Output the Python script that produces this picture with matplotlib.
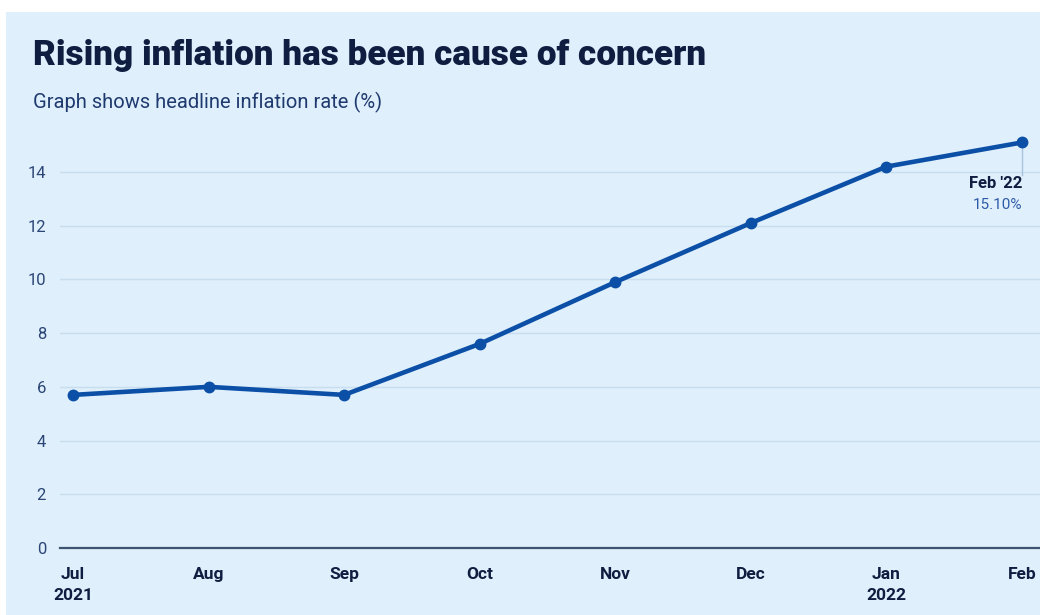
import matplotlib
matplotlib.use("Agg")
import matplotlib.pyplot as plt
from matplotlib.patches import Rectangle

months = ["Jul\n2021", "Aug", "Sep", "Oct", "Nov", "Dec", "Jan\n2022", "Feb"]
inflation = [5.7, 6.0, 5.7, 7.6, 9.9, 12.1, 14.2, 15.1]
yticks = [0, 2, 4, 6, 8, 10, 12, 14]

BG = "#dfeffb"
NAVY = "#0f1d40"
LINE = "#0b4fa6"
TICK = "#2b4676"
GRID = "#c9ddf0"
FONT = ["Roboto", "DejaVu Sans"]

W, H = 1040, 615
fig = plt.figure(figsize=(W / 100, H / 100), dpi=100, facecolor="white")
fig.patches.append(Rectangle((6 / W, 0), 1 - 6 / W, 1 - 12 / H, transform=fig.transFigure,
                             facecolor=BG, edgecolor="none", zorder=-10))

left, right = 60 / W, 1040 / W
bottom, top = (H - 548) / H, (H - 131.7) / H
ax = fig.add_axes([left, bottom, right - left, top - bottom])
ax.set_facecolor("none")

x = list(range(len(months)))
ax.plot(x, inflation, color=LINE, lw=3.3, marker="o", ms=7.5, solid_capstyle="round",
        zorder=5, clip_on=False)

ax.set_xlim(-0.096, 7.133)
ax.set_ylim(0, 15.5)
ax.set_yticks(yticks)
ax.set_yticklabels([str(v) for v in yticks])
ax.set_xticks(x)
ax.set_xticklabels(months)

for s in ["top", "right", "left"]:
    ax.spines[s].set_visible(False)
ax.spines["bottom"].set_color("#3d5470")
ax.spines["bottom"].set_linewidth(1.6)

ax.grid(axis="y", color=GRID, lw=1.0)
ax.set_axisbelow(True)
ax.tick_params(axis="y", length=0, pad=10, labelsize=12, labelcolor=TICK)
ax.tick_params(axis="x", length=0, pad=14, labelsize=12.5, labelcolor=NAVY)
for lab in ax.get_yticklabels():
    lab.set_family(FONT)
for lab in ax.get_xticklabels():
    lab.set_family(FONT)
    lab.set_fontweight("bold")
    lab.set_linespacing(1.45)

# annotation for last point
xl, yl = x[-1], inflation[-1]
ax.plot([xl, xl], [yl, 13.9], color="#a9c4e0", lw=1.0, zorder=3)
ax.text(xl, 13.85, "Feb '22", ha="right", va="top", fontsize=12, fontweight="bold",
        color=NAVY, family=FONT)
ax.text(xl, 13.05, "15.10%", ha="right", va="top", fontsize=11,
        color="#2d5aa8", family=FONT)

fig.text(33 / W, 1 - 55 / H, "Rising inflation has been cause of concern", ha="left", va="center",
         fontsize=25.3, fontweight="heavy", color=NAVY, family=FONT)
fig.text(33 / W, 1 - 102 / H, "Graph shows headline inflation rate (%)", ha="left", va="center",
         fontsize=14.5, color="#1f3a6e", family=FONT)

fig.savefig("out.png", dpi=100, facecolor=fig.get_facecolor())
